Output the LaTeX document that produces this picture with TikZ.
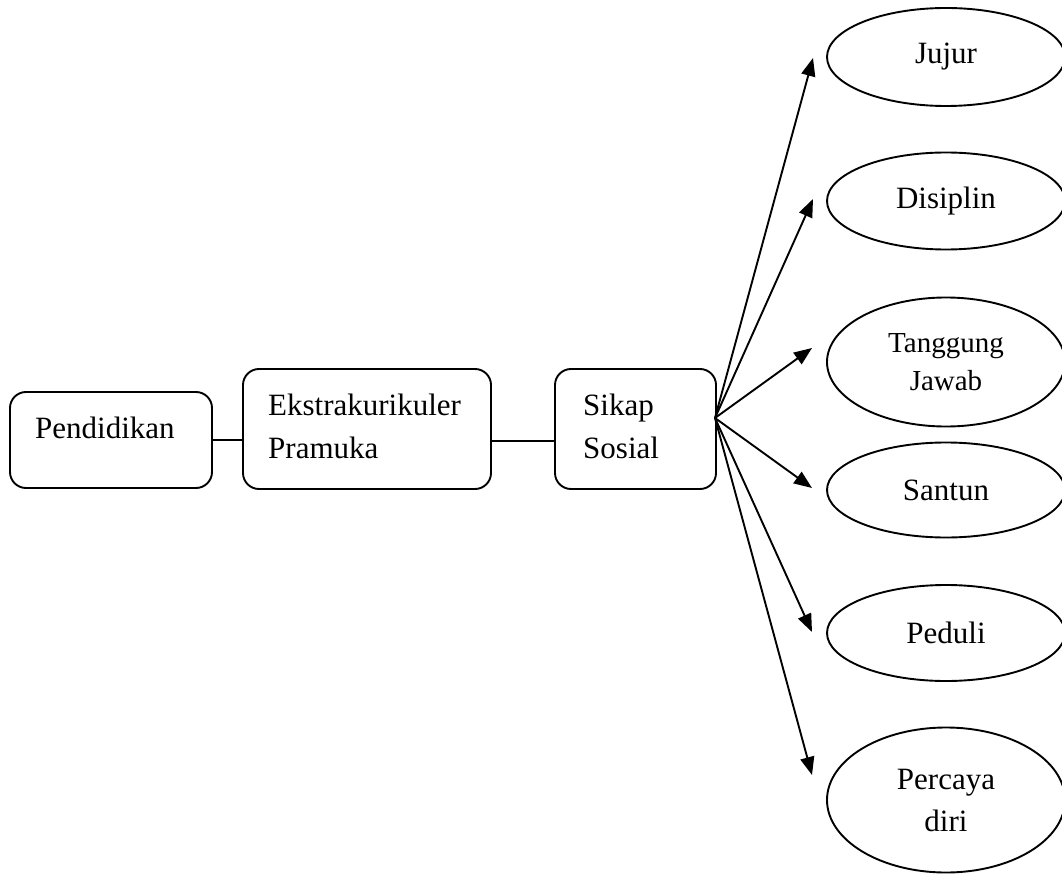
\documentclass[tikz,border=0pt]{standalone}
\usepackage{fontspec}
\setmainfont{Liberation Serif}
\usetikzlibrary{shapes.geometric,arrows.meta}
\begin{document}
\begin{tikzpicture}[x=1pt,y=-1pt,
  box/.style={draw,line width=1.9pt,rounded corners=16pt,inner sep=0pt},
  oval/.style={draw,ellipse,line width=1.9pt,inner sep=0pt,minimum width=238pt,align=center,font=\fontsize{31}{40}\selectfont},
  txt/.style={anchor=base west,inner sep=0pt,align=left,font=\fontsize{31}{43}\selectfont},
  link/.style={line width=1.9pt},
  arr/.style={line width=1.9pt,-{Triangle[length=18pt,width=14pt]}}]
\useasboundingbox (0,0) rectangle (1062,874);
% boxes
\node[box,minimum width=202pt,minimum height=96pt] (pend) at (111,440) {};
\node[txt] (pendt) at (35,438) {Pendidikan};
\node[box,minimum width=248pt,minimum height=120pt] (eks) at (367,429) {};
\node[txt] (ekst1) at (268,415) {Ekstrakurikuler};
\node[txt] (ekst2) at (268,458) {Pramuka};
\node[box,minimum width=161pt,minimum height=120pt] (sik) at (635.5,429) {};
\node[txt] (sikt1) at (583,415) {Sikap};
\node[txt] (sikt2) at (583,458) {Sosial};
% connectors
\draw[link] (pend.east |- 0,440) -- (eks.west |- 0,440);
\draw[link] (eks.east |- 0,441) -- (sik.west |- 0,441);
% ellipses
\node[oval,minimum height=98pt] (jujur) at (946,57) {Jujur};
\node[oval,minimum height=97pt] (disiplin) at (946,201) {Disiplin};
\node[oval,minimum height=129pt,font=\fontsize{29}{38}\selectfont] (tj) at (946,362) {Tanggung\\Jawab};
\node[oval,minimum height=95pt] (santun) at (946,490) {Santun};
\node[oval,minimum height=96pt] (peduli) at (946,633) {Peduli};
\node[oval,minimum height=145pt,font=\fontsize{31}{42}\selectfont] (percaya) at (946,800) {Percaya\\diri};
% arrows
\coordinate (o) at (715,418);
\coordinate (t1) at (813,58);
\coordinate (t2) at (813,199);
\coordinate (t3) at (812,348);
\coordinate (t4) at (812,488);
\coordinate (t5) at (812,632);
\coordinate (t6) at (812,775);
\foreach \t in {t1,t2,t3,t4,t5,t6} \draw[arr] (o) -- (\t);
\end{tikzpicture}
\end{document}
